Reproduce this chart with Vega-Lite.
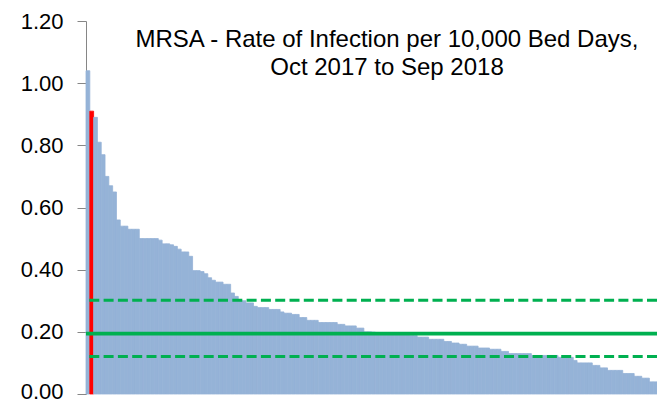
{
  "$schema": "https://vega.github.io/schema/vega-lite/v6.json",
  "width": 571,
  "height": 373,
  "autosize": {"type": "none"},
  "padding": {"left": 86, "top": 21, "right": 0, "bottom": 8},
  "background": "#ffffff",
  "config": {"view": {"stroke": null}},
  "title": {
    "text": ["MRSA  - Rate of Infection per 10,000 Bed Days,", "Oct 2017 to Sep 2018"],
    "orient": "top",
    "anchor": "middle",
    "frame": "group",
    "baseline": "alphabetic",
    "offset": -89,
    "dx": 15.5,
    "font": "Liberation Sans",
    "fontSize": 24,
    "fontWeight": "normal",
    "lineHeight": 28.4,
    "color": "#000000"
  },
  "datasets": {
    "bars": [
      {"rank": 0, "v": 1.04, "hl": "no"},
      {"rank": 1, "v": 0.91, "hl": "yes"},
      {"rank": 2, "v": 0.89, "hl": "no"},
      {"rank": 3, "v": 0.81, "hl": "no"},
      {"rank": 4, "v": 0.77, "hl": "no"},
      {"rank": 5, "v": 0.70, "hl": "no"},
      {"rank": 6, "v": 0.67, "hl": "no"},
      {"rank": 7, "v": 0.65, "hl": "no"},
      {"rank": 8, "v": 0.56, "hl": "no"},
      {"rank": 9, "v": 0.54, "hl": "no"},
      {"rank": 10, "v": 0.54, "hl": "no"},
      {"rank": 11, "v": 0.53, "hl": "no"},
      {"rank": 12, "v": 0.53, "hl": "no"},
      {"rank": 13, "v": 0.53, "hl": "no"},
      {"rank": 14, "v": 0.50, "hl": "no"},
      {"rank": 15, "v": 0.50, "hl": "no"},
      {"rank": 16, "v": 0.50, "hl": "no"},
      {"rank": 17, "v": 0.50, "hl": "no"},
      {"rank": 18, "v": 0.50, "hl": "no"},
      {"rank": 19, "v": 0.495, "hl": "no"},
      {"rank": 20, "v": 0.483, "hl": "no"},
      {"rank": 21, "v": 0.483, "hl": "no"},
      {"rank": 22, "v": 0.48, "hl": "no"},
      {"rank": 23, "v": 0.475, "hl": "no"},
      {"rank": 24, "v": 0.466, "hl": "no"},
      {"rank": 25, "v": 0.457, "hl": "no"},
      {"rank": 26, "v": 0.457, "hl": "no"},
      {"rank": 27, "v": 0.443, "hl": "no"},
      {"rank": 28, "v": 0.397, "hl": "no"},
      {"rank": 29, "v": 0.397, "hl": "no"},
      {"rank": 30, "v": 0.394, "hl": "no"},
      {"rank": 31, "v": 0.387, "hl": "no"},
      {"rank": 32, "v": 0.374, "hl": "no"},
      {"rank": 33, "v": 0.366, "hl": "no"},
      {"rank": 34, "v": 0.36, "hl": "no"},
      {"rank": 35, "v": 0.36, "hl": "no"},
      {"rank": 36, "v": 0.353, "hl": "no"},
      {"rank": 37, "v": 0.353, "hl": "no"},
      {"rank": 38, "v": 0.325, "hl": "no"},
      {"rank": 39, "v": 0.314, "hl": "no"},
      {"rank": 40, "v": 0.30, "hl": "no"},
      {"rank": 41, "v": 0.30, "hl": "no"},
      {"rank": 42, "v": 0.293, "hl": "no"},
      {"rank": 43, "v": 0.293, "hl": "no"},
      {"rank": 44, "v": 0.282, "hl": "no"},
      {"rank": 45, "v": 0.278, "hl": "no"},
      {"rank": 46, "v": 0.278, "hl": "no"},
      {"rank": 47, "v": 0.278, "hl": "no"},
      {"rank": 48, "v": 0.272, "hl": "no"},
      {"rank": 49, "v": 0.272, "hl": "no"},
      {"rank": 50, "v": 0.272, "hl": "no"},
      {"rank": 51, "v": 0.264, "hl": "no"},
      {"rank": 52, "v": 0.26, "hl": "no"},
      {"rank": 53, "v": 0.26, "hl": "no"},
      {"rank": 54, "v": 0.256, "hl": "no"},
      {"rank": 55, "v": 0.256, "hl": "no"},
      {"rank": 56, "v": 0.246, "hl": "no"},
      {"rank": 57, "v": 0.246, "hl": "no"},
      {"rank": 58, "v": 0.237, "hl": "no"},
      {"rank": 59, "v": 0.237, "hl": "no"},
      {"rank": 60, "v": 0.237, "hl": "no"},
      {"rank": 61, "v": 0.23, "hl": "no"},
      {"rank": 62, "v": 0.23, "hl": "no"},
      {"rank": 63, "v": 0.23, "hl": "no"},
      {"rank": 64, "v": 0.23, "hl": "no"},
      {"rank": 65, "v": 0.23, "hl": "no"},
      {"rank": 66, "v": 0.224, "hl": "no"},
      {"rank": 67, "v": 0.224, "hl": "no"},
      {"rank": 68, "v": 0.219, "hl": "no"},
      {"rank": 69, "v": 0.219, "hl": "no"},
      {"rank": 70, "v": 0.219, "hl": "no"},
      {"rank": 71, "v": 0.212, "hl": "no"},
      {"rank": 72, "v": 0.212, "hl": "no"},
      {"rank": 73, "v": 0.20, "hl": "no"},
      {"rank": 74, "v": 0.20, "hl": "no"},
      {"rank": 75, "v": 0.199, "hl": "no"},
      {"rank": 76, "v": 0.198, "hl": "no"},
      {"rank": 77, "v": 0.197, "hl": "no"},
      {"rank": 78, "v": 0.196, "hl": "no"},
      {"rank": 79, "v": 0.195, "hl": "no"},
      {"rank": 80, "v": 0.194, "hl": "no"},
      {"rank": 81, "v": 0.193, "hl": "no"},
      {"rank": 82, "v": 0.192, "hl": "no"},
      {"rank": 83, "v": 0.191, "hl": "no"},
      {"rank": 84, "v": 0.19, "hl": "no"},
      {"rank": 85, "v": 0.189, "hl": "no"},
      {"rank": 86, "v": 0.188, "hl": "no"},
      {"rank": 87, "v": 0.183, "hl": "no"},
      {"rank": 88, "v": 0.183, "hl": "no"},
      {"rank": 89, "v": 0.183, "hl": "no"},
      {"rank": 90, "v": 0.176, "hl": "no"},
      {"rank": 91, "v": 0.176, "hl": "no"},
      {"rank": 92, "v": 0.176, "hl": "no"},
      {"rank": 93, "v": 0.176, "hl": "no"},
      {"rank": 94, "v": 0.169, "hl": "no"},
      {"rank": 95, "v": 0.169, "hl": "no"},
      {"rank": 96, "v": 0.164, "hl": "no"},
      {"rank": 97, "v": 0.164, "hl": "no"},
      {"rank": 98, "v": 0.16, "hl": "no"},
      {"rank": 99, "v": 0.16, "hl": "no"},
      {"rank": 100, "v": 0.154, "hl": "no"},
      {"rank": 101, "v": 0.154, "hl": "no"},
      {"rank": 102, "v": 0.154, "hl": "no"},
      {"rank": 103, "v": 0.148, "hl": "no"},
      {"rank": 104, "v": 0.148, "hl": "no"},
      {"rank": 105, "v": 0.148, "hl": "no"},
      {"rank": 106, "v": 0.144, "hl": "no"},
      {"rank": 107, "v": 0.144, "hl": "no"},
      {"rank": 108, "v": 0.144, "hl": "no"},
      {"rank": 109, "v": 0.137, "hl": "no"},
      {"rank": 110, "v": 0.137, "hl": "no"},
      {"rank": 111, "v": 0.13, "hl": "no"},
      {"rank": 112, "v": 0.13, "hl": "no"},
      {"rank": 113, "v": 0.13, "hl": "no"},
      {"rank": 114, "v": 0.13, "hl": "no"},
      {"rank": 115, "v": 0.13, "hl": "no"},
      {"rank": 116, "v": 0.13, "hl": "no"},
      {"rank": 117, "v": 0.124, "hl": "no"},
      {"rank": 118, "v": 0.124, "hl": "no"},
      {"rank": 119, "v": 0.124, "hl": "no"},
      {"rank": 120, "v": 0.124, "hl": "no"},
      {"rank": 121, "v": 0.124, "hl": "no"},
      {"rank": 122, "v": 0.124, "hl": "no"},
      {"rank": 123, "v": 0.124, "hl": "no"},
      {"rank": 124, "v": 0.118, "hl": "no"},
      {"rank": 125, "v": 0.118, "hl": "no"},
      {"rank": 126, "v": 0.118, "hl": "no"},
      {"rank": 127, "v": 0.118, "hl": "no"},
      {"rank": 128, "v": 0.108, "hl": "no"},
      {"rank": 129, "v": 0.10, "hl": "no"},
      {"rank": 130, "v": 0.10, "hl": "no"},
      {"rank": 131, "v": 0.10, "hl": "no"},
      {"rank": 132, "v": 0.10, "hl": "no"},
      {"rank": 133, "v": 0.092, "hl": "no"},
      {"rank": 134, "v": 0.092, "hl": "no"},
      {"rank": 135, "v": 0.084, "hl": "no"},
      {"rank": 136, "v": 0.084, "hl": "no"},
      {"rank": 137, "v": 0.076, "hl": "no"},
      {"rank": 138, "v": 0.076, "hl": "no"},
      {"rank": 139, "v": 0.076, "hl": "no"},
      {"rank": 140, "v": 0.076, "hl": "no"},
      {"rank": 141, "v": 0.066, "hl": "no"},
      {"rank": 142, "v": 0.066, "hl": "no"},
      {"rank": 143, "v": 0.066, "hl": "no"},
      {"rank": 144, "v": 0.057, "hl": "no"},
      {"rank": 145, "v": 0.057, "hl": "no"},
      {"rank": 146, "v": 0.051, "hl": "no"},
      {"rank": 147, "v": 0.051, "hl": "no"},
      {"rank": 148, "v": 0.039, "hl": "no"},
      {"rank": 149, "v": 0.039, "hl": "no"}
    ]
  },
  "layer": [
    {
      "data": {"name": "bars"},
      "mark": {"type": "bar", "strokeWidth": 0.8},
      "encoding": {
        "x": {
          "field": "rank",
          "type": "ordinal",
          "axis": null,
          "scale": {"paddingInner": 0, "paddingOuter": 0}
        },
        "y": {
          "field": "v",
          "type": "quantitative",
          "scale": {"domain": [0, 1.2], "nice": false},
          "axis": {
            "values": [0, 0.2, 0.4, 0.6, 0.8, 1.0, 1.2],
            "format": ".2f",
            "title": null,
            "grid": false,
            "labelFont": "Liberation Sans",
            "labelFontSize": 22,
            "labelColor": "#000000",
            "labelOffset": {"condition": {"test": "datum.value === 0", "value": -3}, "value": 0},
            "domainColor": "#868686",
            "tickColor": "#868686",
            "tickSize": 9,
            "labelPadding": 14
          }
        },
        "color": {
          "field": "hl",
          "type": "nominal",
          "scale": {"domain": ["no", "yes"], "range": ["#95B3D7", "#FF0000"]},
          "legend": null
        },
        "stroke": {
          "field": "hl",
          "type": "nominal",
          "scale": {"domain": ["no", "yes"], "range": ["#95B3D7", "#FF0000"]},
          "legend": null
        }
      }
    },
    {
      "data": {"values": [{"v": 0.194}]},
      "mark": {"type": "rule", "color": "#00B050", "strokeWidth": 3.7},
      "encoding": {"y": {"field": "v", "type": "quantitative"}}
    },
    {
      "data": {"values": [{"v": 0.302}, {"v": 0.121}]},
      "mark": {"type": "rule", "color": "#00B050", "strokeWidth": 3, "strokeDash": [10, 4.3]},
      "encoding": {"y": {"field": "v", "type": "quantitative"}}
    }
  ]
}
